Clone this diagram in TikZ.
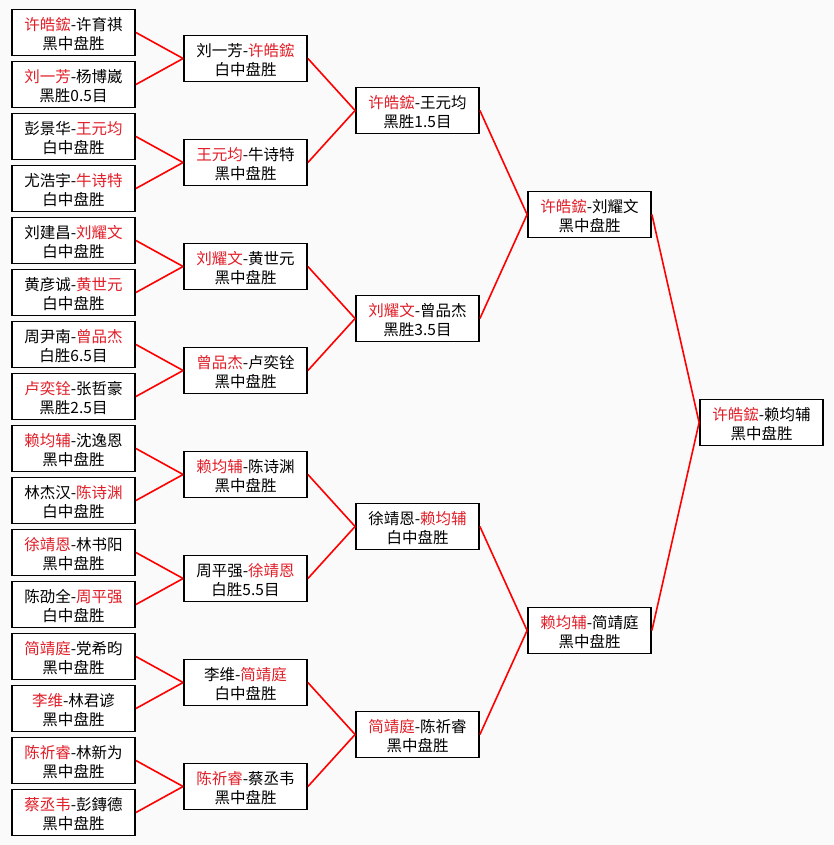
\documentclass[tikz,border=0pt]{standalone}
\usepackage{fontspec}
\setmainfont{Noto Sans CJK SC}
\definecolor{winner}{RGB}{225,30,40}
\newcommand{\w}[1]{\textcolor{winner}{#1}}
\tikzset{
    game/.style={draw=black, line width=1.8pt, fill=white, minimum width=123pt,
    minimum height=46pt, inner sep=0pt, align=center,
    font=\fontsize{15.5}{19}\selectfont, text height=36.8pt, text depth=2pt},
    link/.style={red, line width=1.6pt}
}
\begin{document}
\begin{tikzpicture}[x=1pt, y=-1pt]
        \useasboundingbox (0,0) rectangle (833,845);
        \fill[black!2] (0,0) rectangle (833,845);
        \node[game] (a1) at (73.5,32.5) {\w{许皓鋐}-许育祺\\黑中盘胜};
        \node[game] (a2) at (73.5,84.5) {\w{刘一芳}-杨博崴\\黑胜0.5目};
        \node[game] (a3) at (73.5,136.5) {彭景华-\w{王元均}\\白中盘胜};
        \node[game] (a4) at (73.5,188.5) {尤浩宇-\w{牛诗特}\\白中盘胜};
        \node[game] (a5) at (73.5,240.5) {刘建昌-\w{刘耀文}\\白中盘胜};
        \node[game] (a6) at (73.5,292.5) {黄彦诚-\w{黄世元}\\白中盘胜};
        \node[game] (a7) at (73.5,344.5) {周尹南-\w{曾品杰}\\白胜6.5目};
        \node[game] (a8) at (73.5,396.5) {\w{卢奕铨}-张哲豪\\黑胜2.5目};
        \node[game] (a9) at (73.5,448.5) {\w{赖均辅}-沈逸恩\\黑中盘胜};
        \node[game] (a10) at (73.5,500.5) {林杰汉-\w{陈诗渊}\\白中盘胜};
        \node[game] (a11) at (73.5,552.5) {\w{徐靖恩}-林书阳\\黑中盘胜};
        \node[game] (a12) at (73.5,604.5) {陈劭全-\w{周平强}\\白中盘胜};
        \node[game] (a13) at (73.5,656.5) {\w{简靖庭}-党希昀\\黑中盘胜};
        \node[game] (a14) at (73.5,708.5) {\w{李维}-林君谚\\黑中盘胜};
        \node[game] (a15) at (73.5,760.5) {\w{陈祈睿}-林新为\\黑中盘胜};
        \node[game] (a16) at (73.5,812.5) {\w{蔡丞韦}-彭鏄德\\黑中盘胜};
        \node[game] (b1) at (245.5,58.5) {刘一芳-\w{许皓鋐}\\白中盘胜};
        \node[game] (b2) at (245.5,162.5) {\w{王元均}-牛诗特\\黑中盘胜};
        \node[game] (b3) at (245.5,266.5) {\w{刘耀文}-黄世元\\黑中盘胜};
        \node[game] (b4) at (245.5,370.5) {\w{曾品杰}-卢奕铨\\黑中盘胜};
        \node[game] (b5) at (245.5,474.5) {\w{赖均辅}-陈诗渊\\黑中盘胜};
        \node[game] (b6) at (245.5,578.5) {周平强-\w{徐靖恩}\\白胜5.5目};
        \node[game] (b7) at (245.5,682.5) {李维-\w{简靖庭}\\白中盘胜};
        \node[game] (b8) at (245.5,786.5) {\w{陈祈睿}-蔡丞韦\\黑中盘胜};
        \node[game] (c1) at (417.5,110.5) {\w{许皓鋐}-王元均\\黑胜1.5目};
        \node[game] (c2) at (417.5,318.5) {\w{刘耀文}-曾品杰\\黑胜3.5目};
        \node[game] (c3) at (417.5,526.5) {徐靖恩-\w{赖均辅}\\白中盘胜};
        \node[game] (c4) at (417.5,734.5) {\w{简靖庭}-陈祈睿\\黑中盘胜};
        \node[game] (d1) at (589.5,214.5) {\w{许皓鋐}-刘耀文\\黑中盘胜};
        \node[game] (d2) at (589.5,630.5) {\w{赖均辅}-简靖庭\\黑中盘胜};
        \node[game] (e1) at (761.5,422.5) {\w{许皓鋐}-赖均辅\\黑中盘胜};
        \foreach \p/\q/\n in {a/b/8, b/c/4, c/d/2, d/e/1}
        \foreach \i in {1,...,\n} {
            \pgfmathtruncatemacro\j{2*\i-1}
            \pgfmathtruncatemacro\k{2*\i}
            \draw[link] (\p\j.east) -- (\q\i.west);
            \draw[link] (\p\k.east) -- (\q\i.west);
        }
    \end{tikzpicture}
\end{document}
